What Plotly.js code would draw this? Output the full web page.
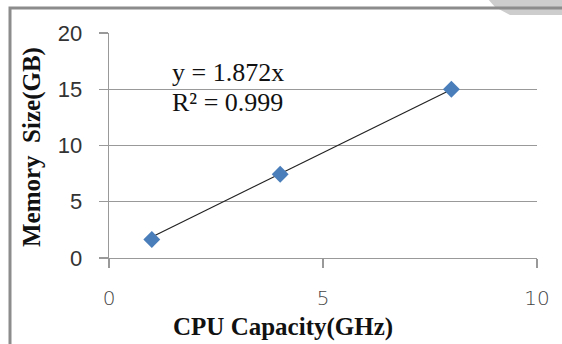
<!DOCTYPE html>
<html>
<head>
<meta charset="utf-8">
<script src="https://cdn.plot.ly/plotly-3.0.1.min.js"></script>
<style>html,body{margin:0;padding:0;background:#fff;}#chart{width:562px;height:344px;}</style>
</head>
<body>
<div id="chart"></div>
<script>
// Data
const cpuCapacity = [1, 4, 8];          // GHz
const memorySize = [1.65, 7.45, 15.0];   // GB
const trendX = [1, 8];
const trendY = [1.872, 14.976];          // y = 1.872x
const equationText = "y = 1.872x";
const r2Text = "R\u00b2 = 0.999";
const xTickVals = [0, 5, 10];
const yTickVals = [0, 5, 10, 15, 20];
const xTitle = "CPU Capacity(GHz)";
const yTitle = "Memory  Size(GB)";

const L = 109, R = 537, T = 33, B = 258, W = 562, H = 344;
const px = v => (v - L) / (R - L);
const py = v => (B - v) / (B - T);

const traces = [
  {x: trendX, y: trendY, type: 'scatter', mode: 'lines',
   line: {color: '#222', width: 1.2}, hoverinfo: 'skip', showlegend: false},
  {x: cpuCapacity, y: memorySize, type: 'scatter', mode: 'markers',
   marker: {symbol: 'diamond', size: 13, color: '#4A7EBB'}, showlegend: false}
];

const serif = 'Liberation Serif, Times New Roman, serif';

const layout = {
  width: W, height: H,
  margin: {l: L, r: W - R, t: T, b: H - B},
  paper_bgcolor: '#fff', plot_bgcolor: '#fff',
  showlegend: false,
  xaxis: {range: [0, 10], tickvals: xTickVals, showgrid: false, zeroline: false,
          showline: true, linecolor: '#999', linewidth: 1.3,
          ticks: 'outside', ticklen: 9, tickcolor: '#999', tickwidth: 1.3,
          ticklabelstandoff: 13,
          tickfont: {family: 'DejaVu Sans, sans-serif', size: 20, color: '#444', weight: 300}},
  yaxis: {range: [0, 20], tickvals: yTickVals, showgrid: true, gridcolor: '#999', gridwidth: 1.3,
          zeroline: false, showline: true, linecolor: '#999', linewidth: 1.3,
          ticks: 'outside', ticklen: 9, tickcolor: '#999', tickwidth: 1.3,
          ticklabelstandoff: 12,
          tickfont: {family: 'Liberation Sans, Arial, sans-serif', size: 22, color: '#333'}},
  shapes: [
    {type: 'path', xref: 'paper', yref: 'paper',
     path: `M ${px(487)} ${py(-2)} L ${px(495)} ${py(7)} L ${px(510)} ${py(15)} L ${px(570)} ${py(15)} L ${px(570)} ${py(-2)} Z`,
     fillcolor: '#cdcdcd', line: {width: 0}, layer: 'below'},
    {type: 'rect', xref: 'paper', yref: 'paper',
     x0: px(10), x1: px(575), y0: py(8), y1: py(360),
     line: {color: '#8c8c8c', width: 3}, fillcolor: 'rgba(0,0,0,0)', layer: 'below'}
  ],
  annotations: [
    {text: equationText, xref: 'x', yref: 'y', x: 1.42, y: 16.5, xanchor: 'left', yanchor: 'middle',
     showarrow: false, font: {family: serif, size: 26, color: '#111'}},
    {text: r2Text, xref: 'x', yref: 'y', x: 1.42, y: 13.85, xanchor: 'left', yanchor: 'middle',
     showarrow: false, font: {family: serif, size: 26, color: '#111'}},
    {text: '<b>' + xTitle + '</b>', xref: 'paper', yref: 'paper', x: px(283), y: py(327),
     xanchor: 'center', yanchor: 'middle', showarrow: false,
     font: {family: serif, size: 25, color: '#111'}},
    {text: '<b>' + yTitle.replace('  ', '&nbsp;&nbsp;') + '</b>', xref: 'paper', yref: 'paper', x: px(32), y: py(147),
     xanchor: 'center', yanchor: 'middle', textangle: -90, showarrow: false,
     font: {family: serif, size: 25, color: '#111'}}
  ]
};

Plotly.newPlot('chart', traces, layout, {staticPlot: true, displayModeBar: false});
</script>
</body>
</html>
